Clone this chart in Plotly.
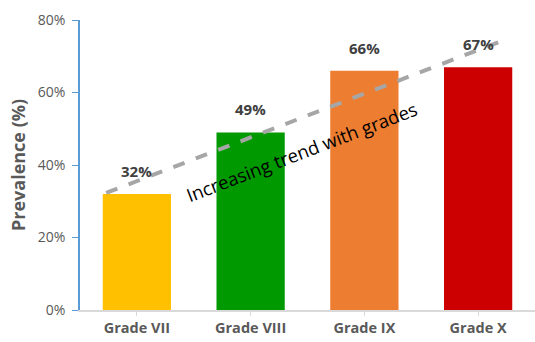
import plotly.graph_objects as go

categories = ["Grade VII", "Grade VIII", "Grade IX", "Grade X"]
prevalence = [32, 49, 66, 67]
bar_colors = ["#FFC000", "#009900", "#ED7D31", "#CC0000"]
value_labels = ["32%", "49%", "66%", "67%"]
trend_x = [-0.27, 3.23]
trend_y = [32.3, 74.5]
y_ticks = [0, 20, 40, 60, 80]
y_tick_labels = ["0%", "20%", "40%", "60%", "80%"]

FONT = "Open Sans"
xpos = list(range(len(categories)))

fig = go.Figure()
fig.add_trace(go.Bar(x=xpos, y=prevalence, marker=dict(color=bar_colors, line=dict(width=0)),
                     width=0.6, showlegend=False, hoverinfo="skip"))
fig.add_trace(go.Scatter(x=trend_x, y=trend_y, mode="lines",
                         line=dict(color="#A6A6A6", width=4, dash="dash"),
                         showlegend=False, hoverinfo="skip"))

for xi, v, lab in zip(xpos, prevalence, value_labels):
    fig.add_annotation(x=xi, y=v, text=lab, showarrow=False, yanchor="bottom", yshift=11,
                       font=dict(family=FONT, size=15, color="#404040", weight="bold"))

fig.add_annotation(x=1.45, y=43.6, text="Increasing trend with grades", showarrow=False,
                   textangle=-21, font=dict(family=FONT, size=18.5, color="#000000"))

fig.update_layout(
    width=535, height=342,
    margin=dict(l=80, r=0, t=20, b=32),
    plot_bgcolor="white", paper_bgcolor="white",
    xaxis=dict(range=[-0.5, 3.5], tickvals=xpos, ticktext=categories,
               showgrid=False, zeroline=False, showline=True, linecolor="#D9D9D9", linewidth=1.5,
               ticks="outside", ticklen=4, tickcolor="#D9D9D9",
               tickfont=dict(family=FONT, size=14.5, color="#595959", weight="bold")),
    yaxis=dict(range=[0, 80], tickvals=y_ticks, ticktext=y_tick_labels,
               showgrid=False, zeroline=False, showline=True, linecolor="#5B9BD5", linewidth=1.5,
               ticks="outside", ticklen=6, tickcolor="#5B9BD5", ticklabelstandoff=4,
               tickfont=dict(family=FONT, size=14, color="#595959"),
               title=dict(text="Prevalence (%)", standoff=8,
                          font=dict(family=FONT, size=18, color="#595959", weight="bold"))),
)
fig.write_html("out.html")
